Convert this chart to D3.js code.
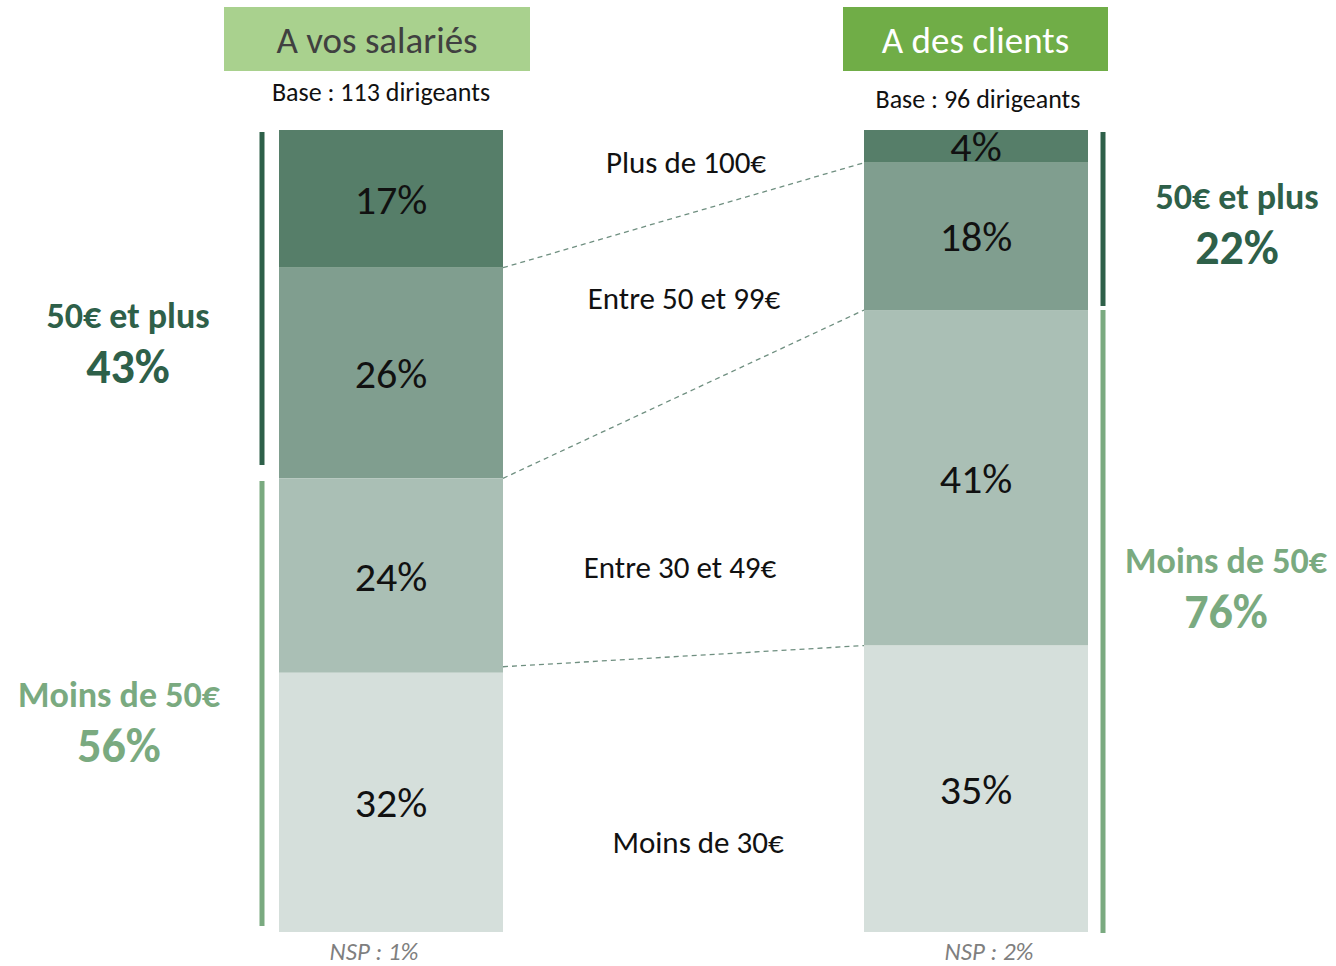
<!DOCTYPE html>
<html>
<head>
<meta charset="utf-8">
<script src="https://cdn.jsdelivr.net/npm/d3@7"></script>
<style>
  body { margin: 0; background: #fff; }
  svg text { font-family: Carlito, Calibri, Lato, sans-serif; }
</style>
</head>
<body>
<div id="chart"></div>
<script>
/*
    DATA
*/
let CATEGORIES = ["Plus de 100€", "Entre 50 et 99€", "Entre 30 et 49€", "Moins de 30€"];
let SALARIES = [17, 26, 24, 32];
let CLIENTS = [4, 18, 41, 35];
let PANEL_TITLES = ["A vos salariés", "A des clients"];
let BASES = ["Base : 113 dirigeants", "Base : 96 dirigeants"];
let NSP = ["NSP : 1%", "NSP : 2%"];
let GROUP_NAMES = ["50€ et plus", "Moins de 50€"];
let GROUP_SALARIES = [43, 56];
let GROUP_CLIENTS = [22, 76];

/*
    CONSTANTS
*/
let SIZE = { width: 1336, height: 966 };
let BAR_TOP = 130, BAR_BOT = 932, BAR_W = 224;
let SEG_COLORS = ["#567e69", "#809e8f", "#aabfb5", "#d5dfdb"];
let GROUP_COLORS = ["#2e6049", "#7aaa80"];

var svg = d3.select("#chart").append("svg")
    .attr("width", SIZE.width)
    .attr("height", SIZE.height);

// left edge of each bar
var xBar = d3.scaleOrdinal().domain([0, 1]).range([279, 864]);

function stackOf(vals) {
    var acc = 0;
    return vals.map((v, i) => { var s = { i: i, v: v, y0: acc, y1: acc + v }; acc += v; return s; });
}

var series = [SALARIES, CLIENTS];
// each bar fills the full height with its own total (NSP left out)
var scales = series.map(vals => d3.scaleLinear().domain([0, d3.sum(vals)]).range([BAR_TOP, BAR_BOT]));
var stacks = series.map(stackOf);

/*
    HEADERS
*/
var headers = [
    { x: 224, w: 306, fill: "#a9d18e", text: "#404040" },
    { x: 843, w: 265, fill: "#70ad47", text: "#ffffff" }
];
headers.forEach((h, k) => {
    svg.append("rect").attr("x", h.x).attr("y", 7).attr("width", h.w).attr("height", 64).attr("fill", h.fill);
    svg.append("text").attr("x", h.x + h.w / 2).attr("y", 53).attr("text-anchor", "middle")
        .attr("font-size", 37).attr("fill", h.text).text(PANEL_TITLES[k]);
});
svg.append("text").attr("x", 381).attr("y", 101).attr("text-anchor", "middle").attr("font-size", 26).attr("fill", "#111").text(BASES[0]);
svg.append("text").attr("x", 978).attr("y", 108).attr("text-anchor", "middle").attr("font-size", 26).attr("fill", "#111").text(BASES[1]);

/*
    BARS
*/
stacks.forEach((st, k) => {
    var y = scales[k];
    var g = svg.append("g");
    g.selectAll("rect").data(st).enter().append("rect")
        .attr("x", xBar(k))
        .attr("width", BAR_W)
        .attr("y", d => y(d.y0))
        .attr("height", d => y(d.y1) - y(d.y0))
        .attr("fill", d => SEG_COLORS[d.i]);
    g.selectAll("text").data(st).enter().append("text")
        .attr("x", xBar(k) + BAR_W / 2)
        .attr("y", d => (y(d.y0) + y(d.y1)) / 2 + 15)
        .attr("text-anchor", "middle")
        .attr("font-size", 42)
        .attr("fill", "#111")
        .text(d => d.v + "%");
    svg.append("text").attr("x", xBar(k) + BAR_W / 2 - 17 + k * 30).attr("y", 960).attr("text-anchor", "middle")
        .attr("font-size", 25).attr("font-style", "italic").attr("fill", "#7f7f7f").text(NSP[k]);
});

// dashed connectors between segment boundaries
d3.range(1, CATEGORIES.length).forEach(j => {
    svg.append("line")
        .attr("x1", xBar(0) + BAR_W).attr("y1", scales[0](stacks[0][j].y0) - (j == 3 ? 6 : 0))
        .attr("x2", xBar(1)).attr("y2", scales[1](stacks[1][j].y0))
        .attr("stroke", "#6f8f80").attr("stroke-width", 1.3).attr("stroke-dasharray", "5,4");
});

// category labels in the middle
let CAT_POS = [{ x: 686, y: 173 }, { x: 684, y: 309 }, { x: 680, y: 578 }, { x: 698, y: 853 }];
svg.selectAll(".cat").data(CATEGORIES).enter().append("text")
    .attr("class", "cat")
    .attr("x", (d, i) => CAT_POS[i].x)
    .attr("y", (d, i) => CAT_POS[i].y)
    .attr("text-anchor", "middle")
    .attr("font-size", 31)
    .attr("fill", "#111")
    .text(d => d);

/*
    BRACKETS + GROUP TOTALS
*/
let BRACKETS = [
    { x: 262, ys: [[132, 465], [481, 926]] },
    { x: 1103, ys: [[132, 306], [310, 933]] }
];
BRACKETS.forEach(b => {
    b.ys.forEach((yy, g) => {
        svg.append("line").attr("x1", b.x).attr("x2", b.x).attr("y1", yy[0]).attr("y2", yy[1])
            .attr("stroke", GROUP_COLORS[g]).attr("stroke-width", 5);
    });
});

let GROUP_POS = [
    [{ x: 128, y: 316 }, { x: 119, y: 695 }],
    [{ x: 1237, y: 197 }, { x: 1226, y: 561 }]
];
[GROUP_SALARIES, GROUP_CLIENTS].forEach((vals, k) => {
    vals.forEach((v, g) => {
        var p = GROUP_POS[k][g];
        svg.append("text").attr("x", p.x).attr("y", p.y + 12).attr("text-anchor", "middle")
            .attr("font-size", 36).attr("font-weight", "bold").attr("fill", GROUP_COLORS[g]).text(GROUP_NAMES[g]);
        svg.append("text").attr("x", p.x).attr("y", p.y + 67).attr("text-anchor", "middle")
            .attr("font-size", 48).attr("font-weight", "bold").attr("fill", GROUP_COLORS[g]).text(v + "%");
    });
});
</script>
</body>
</html>
